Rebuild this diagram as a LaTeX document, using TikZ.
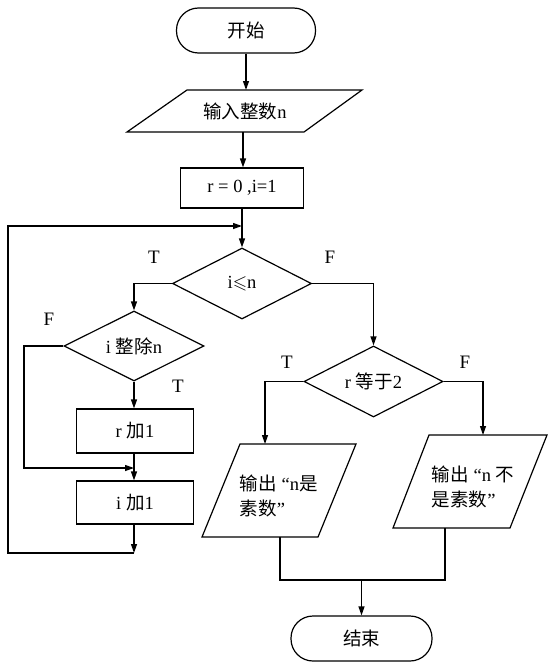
\documentclass[tikz,border=0pt]{standalone}
\usepackage{amssymb}
\usepackage{fontspec}
\setmainfont{Liberation Serif}
\newfontfamily\cjk{Noto Sans CJK SC}
\usetikzlibrary{shapes.geometric,arrows.meta}
\begin{document}
\begin{tikzpicture}[x=1pt,y=-1pt,
  line width=1.2pt,
  every node/.style={font=\fontsize{18.5}{25}\selectfont},
  term/.style={draw, rectangle, rounded corners=22pt, minimum width=139pt, minimum height=45pt, inner sep=0pt},
  proc/.style={draw, rectangle, inner sep=0pt},
  dec/.style={draw, diamond, minimum width=139pt, minimum height=71pt, inner sep=0pt, aspect=2},
  arr/.style={-{Triangle[length=9pt,width=6pt]}},
  lbl/.style={font=\fontsize{19}{22}\selectfont}
]
\useasboundingbox (0,0) rectangle (556,669);

% start
\node[term] (start) at (246,30.5) {\cjk 开始};

% input parallelogram
\draw (187,90) -- (362,90) -- (304,132) -- (127,132) -- cycle;
\node (inp) at (245,111) {{\cjk 输入整数}n};
\coordinate (inpT) at (246,90);
\coordinate (inpB) at (243,132);

% init
\node[proc, minimum width=123pt, minimum height=40pt] (init) at (242,188) {r = 0 ,i=1};

% decision 1
\node[dec] (d1) at (242,283.5) {i$\leqslant$n};
\coordinate (join) at (242,226);

% decision 2
\node[dec, minimum width=140pt, minimum height=70pt] (d2) at (134,346) {i {\cjk 整除}n};

% process boxes
\node[proc, minimum width=117pt, minimum height=44pt] (r1) at (135,431) {r {\cjk 加}1};
\node[proc, minimum width=117pt, minimum height=43pt] (i1) at (135,502.5) {i {\cjk 加}1};

% decision 3
\node[dec] (d3) at (373.5,381.5) {r {\cjk 等于}2};

% output parallelograms
\draw (240,444) -- (356,444) -- (318,537) -- (202,537) -- cycle;
\node[anchor=west, align=left] (o1) at (236,495.5) {{\cjk 输出} “n{\cjk 是}\\{\cjk 素数}”};
\coordinate (o1T) at (265,444);
\coordinate (o1B) at (280,537);

\draw (429,435) -- (547,435) -- (510,528) -- (393,528) -- cycle;
\node[anchor=west, align=left] (o2) at (428,487) {{\cjk 输出} “n {\cjk 不}\\{\cjk 是素数}”};
\coordinate (o2T) at (483,435);
\coordinate (o2B) at (445,528);

% end
\node[term, minimum width=141pt] (end) at (361.5,638.5) {\cjk 结束};
\coordinate (m) at (361.5,580);

% labels
\node[lbl] (t1) at (154,257) {T};
\node[lbl] (f1) at (330,257) {F};
\node[lbl] (f2) at (49,319) {F};
\node[lbl] (t2) at (178,386) {T};
\node[lbl] (t3) at (287,362) {T};
\node[lbl] (f3) at (465,362) {F};

% connectors
\draw[arr] (start.south) -- (inpT);
\draw[arr] (inpB) -- (inpB |- init.north);
\draw[arr] (init.south) -- (d1.north);
\draw[arr] (d1.west) -| (d2.north);
\draw[arr] (d1.east) -| (d3.north);
\draw[arr] (d2.south) -- (d2.south |- r1.north);
\draw[arr] (r1.south -| d2.south) -- (d2.south |- i1.north);
\coordinate (fl) at (24,468);
\coordinate (fj) at (134,468);
\draw[arr] (d2.west) -| (fl) -- (fj);
\coordinate (c1) at (134,553);
\coordinate (lb) at (8,553);
\draw[arr] (i1.south -| d2.south) -- (c1);
\draw[arr] (c1) -- (lb) |- (join);
\draw[arr] (d3.west) -| (o1T);
\draw[arr] (d3.east) -| (o2T);
\draw (o1B) |- (m) -| (o2B);
\draw[arr] (m) -- (end.north);
\end{tikzpicture}
\end{document}
